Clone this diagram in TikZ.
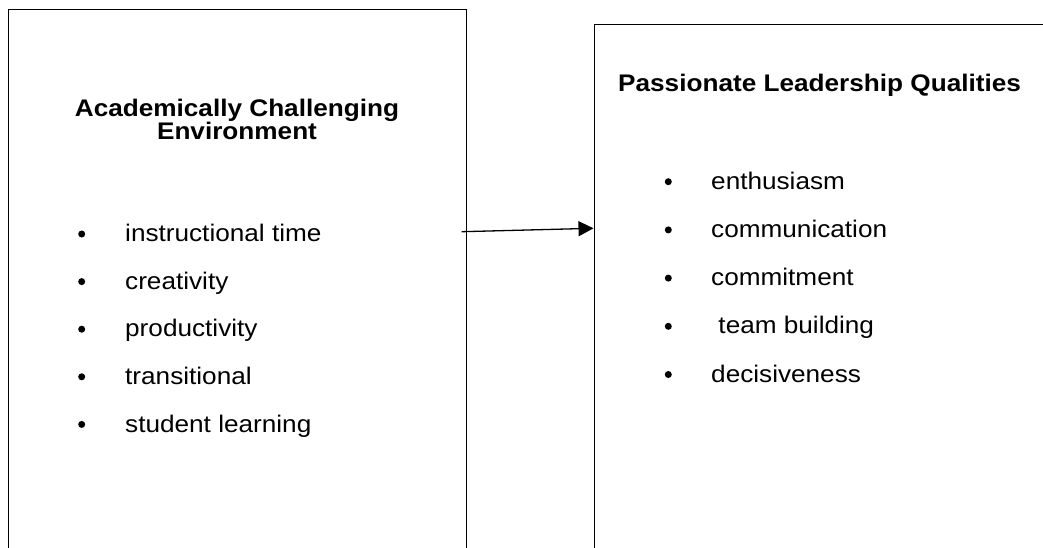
\documentclass[tikz,border=0pt]{standalone}
\usepackage{fontspec}
\setmainfont[FakeStretch=1.09]{Liberation Sans}
\usetikzlibrary{arrows.meta}
\tikzset{
  frame/.style={draw=black, line width=1.3pt, rectangle, anchor=north west, inner sep=0pt},
  head/.style={anchor=base, inner sep=0pt, font=\fontsize{24}{24}\selectfont\bfseries},
  item/.style={anchor=base west, inner sep=0pt, font=\fontsize{24}{24}\selectfont},
  dot/.style={circle, fill=black, draw=none, inner sep=0pt, minimum size=7pt},
  link/.style={line width=1.3pt, -{Triangle[length=15pt, width=15pt]}}
}
\begin{document}
\begin{tikzpicture}[x=1pt, y=-1pt]
\useasboundingbox (0,0) rectangle (1043,548);
\clip (0,0) rectangle (1043,548);
% boxes
\node[frame, minimum width=458pt, minimum height=620pt] (leftbox) at (8,9) {};
\node[frame, minimum width=520pt, minimum height=620pt] (rightbox) at (593.5,24) {};
% left heading
\node[head] (lh1) at (237,116.7) {Academically Challenging};
\node[head] (lh2) at (237,140) {Environment};
% right heading
\node[head, anchor=base west] (rh) at (618,91.7) {Passionate Leadership Qualities};
% left list
\foreach \t [count=\i] in {instructional time, creativity, productivity, transitional, student learning} {
  \node[dot] (lb\i) at (81.7, {234+(\i-1)*47.6}) {};
  \node[item] (li\i) at (125, {241.6+(\i-1)*47.6}) {\t};
}
% right list
\foreach \t [count=\i] in {enthusiasm, communication, commitment, {\ team building}, decisiveness} {
  \node[dot] (rb\i) at (668.3, {181.7+(\i-1)*48.2}) {};
  \node[item] (ri\i) at (711, {189.3+(\i-1)*48.2}) {\t};
}
% arrow
\coordinate (start) at (461.7,231.7);
\draw[link] (start) -- (rightbox.west |- 0,228.3);
\end{tikzpicture}
\end{document}
